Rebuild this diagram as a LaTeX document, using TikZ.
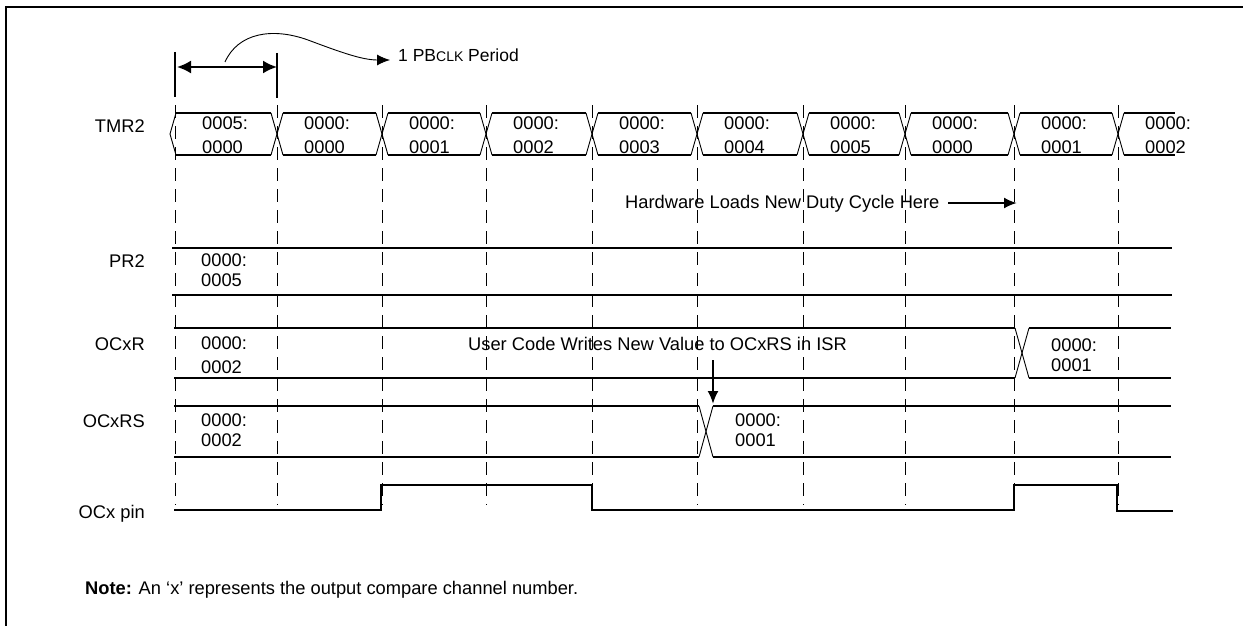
\documentclass[tikz,border=0pt]{standalone}
\usepackage{fontspec}
\setmainfont{Liberation Sans}
\usetikzlibrary{arrows.meta}
\begin{document}
\begin{tikzpicture}[x=1pt,y=-1pt,
  txt/.style={font=\fontsize{18.3}{22}\selectfont, inner sep=0pt},
  val/.style={inner sep=0pt, align=left, anchor=west, font=\fontsize{18.3}{#1}\selectfont},
  val/.default=22,
  lbl/.style={txt, anchor=base east},
  sig/.style={line width=2.1pt},
  thinl/.style={line width=0.9pt},
  gridl/.style={line width=0.9pt, dash pattern=on 13pt off 8pt},
  tip/.style={-{Latex[length=13pt,width=11pt]}},
]
\useasboundingbox (0,0) rectangle (1243,626);
\fill[white] (0,0) rectangle (1243,626);
% frame
\draw[line width=2.8pt] (5,7) -- (1243,7);
\draw[line width=2pt] (6,7) -- (6,626);
% grid lines
\foreach \a in {175,277,382,486,592,697,803,905,1014,1118}
  \draw[gridl] (\a,105) -- (\a,505);
% period marker
\draw[sig] (175,52) -- (175,97);
\draw[sig] (277,53) -- (277,98);
\draw[sig,{Latex[length=14pt,width=13pt]}-{Latex[length=14pt,width=13pt]}] (177,67) -- (277,67);
\node[inner sep=0pt, font=\fontsize{17.5}{20}\selectfont, anchor=base west] (pb) at (398,62) {1 PB{\fontsize{14}{16}\selectfont CLK} Period};
\coordinate (pbs) at (225,62);
\coordinate (pbt) at (390,60);
\draw[thinl,tip] (pbs) .. controls (238,33) and (272,27) .. (308,40) .. controls (340,52) and (362,60) .. (pbt);
% TMR2 bus
\draw[thinl] (176,113) -- (170,134) -- (176,155);
\draw[sig] (176,113) -- (271,113);
\draw[sig] (176,155) -- (271,155);
\foreach \a/\b in {277/382,382/486,486/592,592/697,697/803,803/905,905/1014,1014/1118} {
  \draw[sig] (\a+6,113) -- (\b-6,113);
  \draw[sig] (\a+6,155) -- (\b-6,155);
}
\draw[sig] (1124,113) -- (1175,113);
\draw[sig] (1124,155) -- (1175,155);
\foreach \a in {277,382,486,592,697,803,905,1014,1118} {
  \draw[thinl] (\a-6,113) -- (\a+6,155);
  \draw[thinl] (\a-6,155) -- (\a+6,113);
}
\foreach \a/\u/\v [count=\i] in {175/0005:/0000,277/0000:/0000,382/0000:/0001,486/0000:/0002,592/0000:/0003,697/0000:/0004,803/0000:/0005,905/0000:/0000,1014/0000:/0001,1118/0000:/0002}
  \node[val=24] (t\i) at (\a+27,135) {\u\\\v};
\node[lbl] (ltmr) at (145,132) {TMR2};
% hardware note
\node[txt, anchor=base west] (hw) at (625,208.5) {Hardware Loads New Duty Cycle Here};
\coordinate (hws) at (948,203);
\coordinate (hwt) at (1017,203);
\draw[sig,tip] (hws) -- (hwt);
% PR2
\draw[sig] (172,248) -- (1172,248);
\draw[sig] (172,295) -- (1172,295);
\node[val=20] (pr2v) at (201,270.5) {0000:\\0005};
\node[lbl] (lpr2) at (145,267) {PR2};
% OCxR
\draw[sig] (174,328) -- (1015,328);
\draw[sig] (174,378) -- (1015,378);
\draw[thinl] (1015,328) -- (1029,378);
\draw[thinl] (1015,378) -- (1029,328);
\draw[sig] (1029,328) -- (1171,328);
\draw[sig] (1029,378) -- (1171,378);
\node[val=24] (ocrv1) at (201,355.5) {0000:\\0002};
\node[val=20] (ocrv2) at (1051,355.5) {0000:\\0001};
\node[lbl] (locr) at (145,350) {OCxR};
\node[txt, anchor=base west] (uc) at (468,350) {User Code Writes New Value to OCxRS in ISR};
\coordinate (ucs) at (713,360);
\coordinate (uct) at (713,404);
\draw[sig,tip] (ucs) -- (uct);
% OCxRS
\draw[sig] (174,406) -- (699,406);
\draw[sig] (174,457) -- (699,457);
\draw[thinl] (699,406) -- (713,457);
\draw[thinl] (699,457) -- (713,406);
\draw[sig] (713,406) -- (1171,406);
\draw[sig] (713,457) -- (1171,457);
\node[val=20] (ocrsv1) at (201,430.5) {0000:\\0002};
\node[val=20] (ocrsv2) at (735,430.5) {0000:\\0001};
\node[lbl] (locrs) at (145,427) {OCxRS};
% OCx pin
\draw[sig] (174,510) -- (381,510) -- (381,485) -- (592,485) -- (592,510) -- (1014,510) -- (1014,485) -- (1117,485) -- (1117,511) -- (1173,511);
\node[lbl] (lpin) at (145,518) {OCx pin};
% note
\node[txt, anchor=base west] (note) at (85,594) {\textbf{Note:} An ‘x’ represents the output compare channel number.};
\end{tikzpicture}
\end{document}
